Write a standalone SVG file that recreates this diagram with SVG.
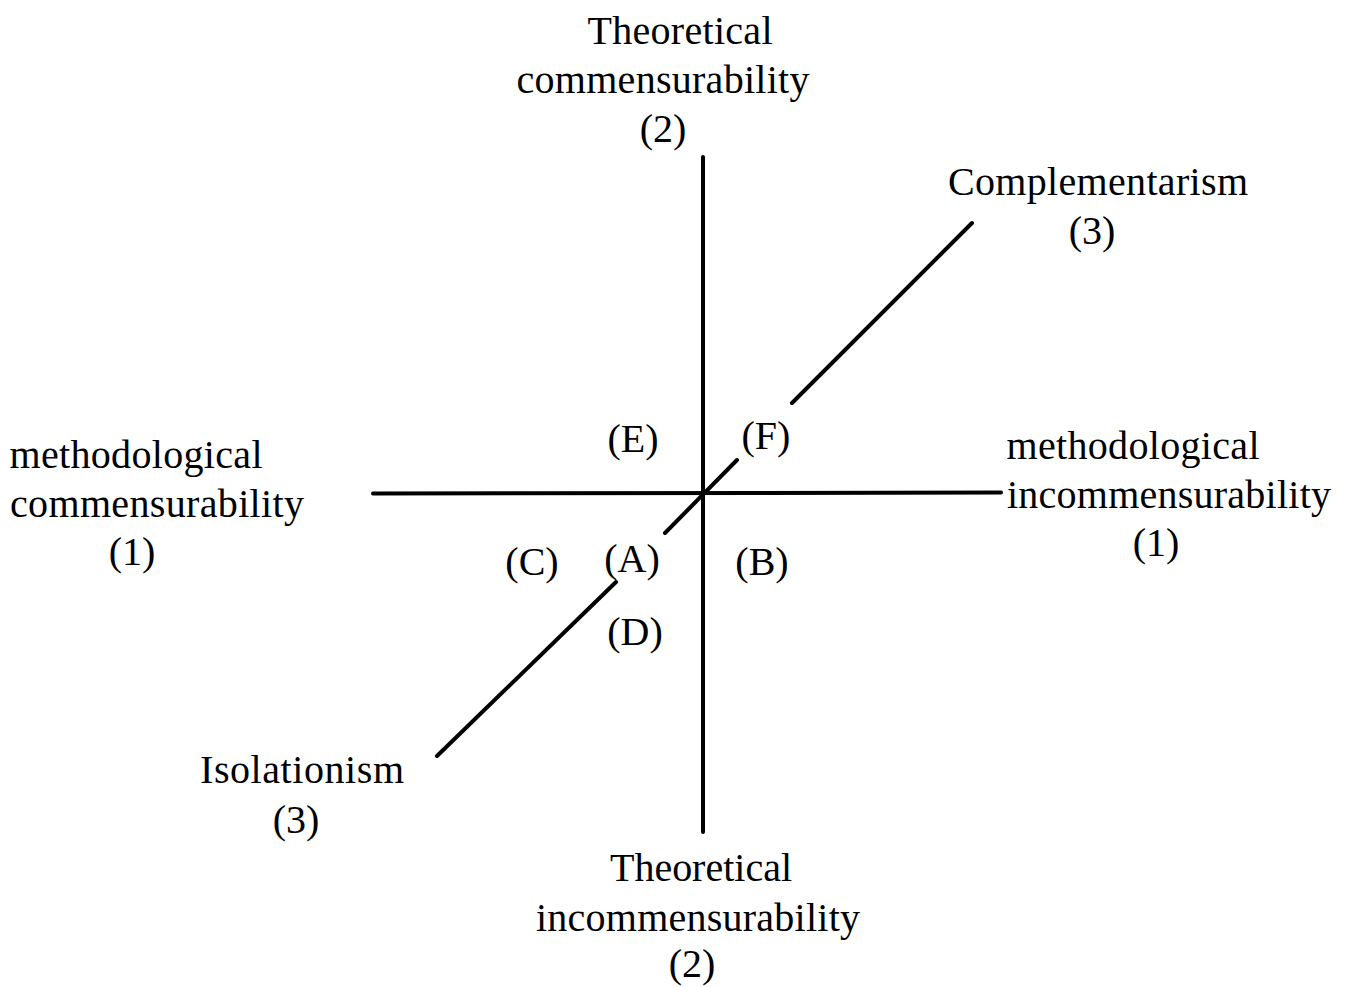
<svg xmlns="http://www.w3.org/2000/svg" width="1350" height="987" viewBox="0 0 1350 987">
<style>
  text { font-family: "Liberation Serif", "Times New Roman", serif; font-size: 40px; fill: #000; text-anchor: middle; }
  .ax { stroke: #000; stroke-width: 4; stroke-linecap: round; fill: none; }
</style>
<rect width="1350" height="987" fill="#fff"/>
<g id="connectors">
  <line class="ax" x1="703" y1="157" x2="703" y2="832"/>
  <line class="ax" x1="373" y1="493.5" x2="1001" y2="492.5"/>
  <line class="ax" x1="972" y1="223" x2="792" y2="403"/>
  <line class="ax" x1="737" y1="460" x2="665" y2="533"/>
  <line class="ax" x1="616" y1="582" x2="437" y2="756"/>
</g>
<g id="theoretical-commensurability">
  <text x="680" y="44" textLength="185" lengthAdjust="spacing">Theoretical</text>
  <text x="663" y="93" textLength="293" lengthAdjust="spacing">commensurability</text>
  <text x="663" y="142">(2)</text>
</g>
<g id="complementarism">
  <text x="1098" y="195" textLength="300" lengthAdjust="spacing">Complementarism</text>
  <text x="1092" y="244">(3)</text>
</g>
<g id="methodological-commensurability">
  <text x="136" y="468" textLength="253" lengthAdjust="spacing">methodological</text>
  <text x="157" y="517" textLength="294" lengthAdjust="spacing">commensurability</text>
  <text x="132" y="565">(1)</text>
</g>
<g id="methodological-incommensurability">
  <text x="1133" y="459" textLength="253" lengthAdjust="spacing">methodological</text>
  <text x="1169" y="508" textLength="324" lengthAdjust="spacing">incommensurability</text>
  <text x="1156" y="556">(1)</text>
</g>
<g id="isolationism">
  <text x="302" y="783" textLength="204" lengthAdjust="spacing">Isolationism</text>
  <text x="296" y="833">(3)</text>
</g>
<g id="theoretical-incommensurability">
  <text x="701" y="881" textLength="182" lengthAdjust="spacing">Theoretical</text>
  <text x="698" y="931" textLength="324" lengthAdjust="spacing">incommensurability</text>
  <text x="692" y="977">(2)</text>
</g>
<g id="label-E"><text x="633" y="452">(E)</text></g>
<g id="label-F"><text x="766" y="449">(F)</text></g>
<g id="label-C"><text x="532" y="575">(C)</text></g>
<g id="label-A"><text x="632" y="572">(A)</text></g>
<g id="label-B"><text x="762" y="575">(B)</text></g>
<g id="label-D"><text x="635" y="645">(D)</text></g>
</svg>
